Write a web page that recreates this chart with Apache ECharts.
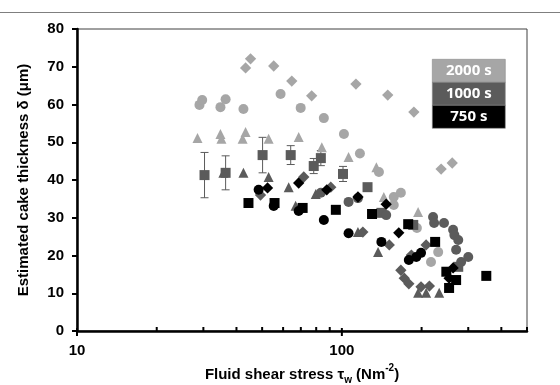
<!DOCTYPE html>
<html>
<head>
<meta charset="utf-8">
<script src="https://cdn.jsdelivr.net/npm/echarts@6/dist/echarts.min.js"></script>
<style>
html,body{margin:0;padding:0;background:#fff;}
#chart{width:560px;height:385px;}
</style>
</head>
<body>
<div id="chart"></div>
<script>
// tick labels
var xTickLabels = [10, 100];
var xMinorTicks = [20, 30, 40, 50, 60, 70, 80, 90, 200, 300, 400, 500];
var legendNames = ['2000 s', '1000 s', '750 s'];

// 2000 s (light grey)
var lightCircleX = [29.0, 29.7, 34.8, 36.4, 42.5, 58.7, 69.9, 85.5, 101.8, 117, 138, 157, 167, 157, 192, 231, 217];
var lightCircleY = [59.9, 61.2, 59.3, 61.4, 58.8, 62.8, 59.1, 56.4, 52.2, 47.0, 42.1, 35.5, 36.6, 33.4, 27.3, 20.9, 18.3];
var lightTriX = [28.5, 34.8, 35.1, 43.3, 42.2, 52.9, 68.7, 84.0, 106, 135, 144, 194];
var lightTriY = [51.1, 52.2, 50.9, 52.7, 50.9, 50.9, 51.4, 48.7, 46.1, 43.4, 35.5, 31.5];
var lightDiaX = [43.3, 45.2, 55.3, 64.7, 76.9, 113, 149, 187, 237, 261];
var lightDiaY = [69.7, 72.1, 70.2, 66.2, 62.3, 65.4, 62.5, 58.0, 42.9, 44.5];

// 1000 s (dark grey)
var darkSquareX = [30.3, 36.4, 50.2, 64.1, 78.3, 83.3, 101, 125, 141, 186, 275];
var darkSquareY = [41.3, 41.9, 46.6, 46.6, 43.7, 45.8, 41.6, 38.1, 31.3, 28.1, 17.0];
var darkSquareErr = [6.0, 4.5, 4.7, 2.5, 2.0, 2.0, 2.0, 0, 0, 0, 0];
var darkTriX = [35.7, 42.5, 52.9, 63.0, 66.9, 79.7, 115, 137, 194, 208, 233];
var darkTriY = [41.9, 41.9, 40.8, 38.1, 33.2, 36.3, 26.2, 20.9, 10.1, 10.1, 10.1];
var darkCircleX = [83.3, 106, 115, 147, 221, 223, 243, 263, 266, 275, 270, 282, 300];
var darkCircleY = [36.6, 34.2, 35.2, 30.7, 30.2, 28.6, 28.6, 26.8, 25.4, 24.1, 21.5, 18.3, 19.6];
var darkDiaX = [49.3, 71.8, 90.8, 120, 151, 167, 172, 179, 199, 214, 208, 183];
var darkDiaY = [36.0, 40.8, 38.1, 26.2, 22.8, 16.1, 14.0, 12.5, 11.7, 11.9, 22.8, 20.1];

// 750 s (black)
var blackSquareX = [44.4, 55.7, 71.1, 94.9, 130, 178, 225, 248, 270, 254, 351];
var blackSquareY = [33.9, 33.9, 32.6, 32.1, 31.0, 28.3, 23.6, 15.7, 13.5, 11.4, 14.6];
var blackCircleX = [48.5, 55.3, 68.7, 85.5, 106, 141, 179, 191, 199];
var blackCircleY = [37.4, 33.1, 31.8, 29.4, 25.9, 23.6, 18.8, 19.6, 20.7];
var blackDiaX = [52.4, 68.7, 87.7, 115, 147, 164, 254, 263];
var blackDiaY = [37.9, 39.2, 37.4, 35.5, 33.6, 26.0, 14.0, 16.7];

var colors = { light: '#a6a6a6', dark: '#5b5b5b', black: '#000000' };
var fontFamily = 'Liberation Sans, Arial, sans-serif';

function zip(xs, ys) {
	var out = [];
	for (var i = 0; i < xs.length; i++) {
		out.push([xs[i], ys[i]]);
	}
	return out;
}

function scatter(name, xs, ys, symbol, color, size, rotate) {
	return {
		name: name,
		type: 'scatter',
		data: zip(xs, ys),
		symbol: symbol,
		symbolSize: size,
		symbolRotate: rotate || 0,
		itemStyle: { color: color, opacity: 1 },
		z: 3
	};
}

var main = {
	el: 'chart',
	init: function() {
		var chart = echarts.init(document.getElementById(this.el));
		chart.setOption(this.buildOption());
	},
	errorData: function() {
		var out = [];
		for (var i = 0; i < darkSquareX.length; i++) {
			if (darkSquareErr[i] > 0) {
				out.push([darkSquareX[i], darkSquareY[i] - darkSquareErr[i], darkSquareY[i] + darkSquareErr[i]]);
			}
		}
		return out;
	},
	// x ticks on the log axis: majors point down, minors point up
	tickData: function() {
		var out = [];
		xTickLabels.forEach(function(v) { out.push([v, 1]); });
		xMinorTicks.forEach(function(v) { out.push([v, 0]); });
		return out;
	},
	legendGraphic: function() {
		var fills = [colors.light, colors.dark, colors.black];
		var items = [];
		for (var i = 0; i < legendNames.length; i++) {
			items.push({
				type: 'rect',
				shape: { x: 0, y: i * 23, width: 73, height: 23 },
				style: { fill: fills[i], stroke: '#8a8a8a', lineWidth: 0.6 }
			});
			items.push({
				type: 'text',
				x: 36.5,
				y: i * 23 + 11.5,
				style: {
					text: legendNames[i],
					fill: '#fff',
					font: 'bold 15px "Open Sans", sans-serif',
					align: 'center',
					verticalAlign: 'middle'
				}
			});
		}
		return { type: 'group', left: 432, top: 59, children: items };
	},
	buildOption: function() {
		var axisFont = { color: '#000', fontSize: 15, fontWeight: 'bold', fontFamily: fontFamily };
		return {
			animation: false,
			backgroundColor: '#fff',
			graphic: [
				{ type: 'line', shape: { x1: 0, y1: 12.5, x2: 560, y2: 12.5 }, style: { stroke: '#7f7f7f', lineWidth: 1 } },
				this.legendGraphic()
			],
			grid: {
				left: 77, right: 33, top: 29, bottom: 54,
				containLabel: false, outerBoundsMode: 'none',
				show: true, borderColor: '#404040', borderWidth: 1, backgroundColor: 'transparent'
			},
			xAxis: {
				type: 'log', logBase: 10, min: 10, max: 500,
				name: '{b|Fluid shear stress τ}{s|w}{b| (Nm}{p|-2}{b|)}',
				nameLocation: 'middle', nameGap: 33,
				nameTextStyle: {
					rich: {
						b: { fontSize: 15, fontWeight: 'bold', color: '#000', fontFamily: fontFamily },
						s: { fontSize: 10, fontWeight: 'bold', color: '#000', verticalAlign: 'bottom', padding: [0, 0, -3, 0], fontFamily: fontFamily },
						p: { fontSize: 10, fontWeight: 'bold', color: '#000', verticalAlign: 'top', padding: [-4, 0, 0, 0], fontFamily: fontFamily }
					}
				},
				axisLine: { onZero: false, lineStyle: { color: '#000', width: 2.5 } },
				axisTick: { show: false },
				axisLabel: Object.assign({ customValues: xTickLabels, margin: 12 }, axisFont),
				splitLine: { show: false }
			},
			yAxis: {
				type: 'value', min: 0, max: 80, interval: 10,
				name: 'Estimated cake thickness δ (μm)',
				nameLocation: 'middle', nameGap: 46,
				nameTextStyle: { fontSize: 15, fontWeight: 'bold', color: '#000', fontFamily: fontFamily },
				axisLine: { onZero: false, lineStyle: { color: '#000', width: 2.5 } },
				axisTick: { show: true, length: 5, lineStyle: { color: '#000', width: 2 } },
				axisLabel: Object.assign({ margin: 13 }, axisFont),
				splitLine: { show: false }
			},
			series: [
				{
					type: 'custom',
					name: 'xticks',
					data: this.tickData(),
					clip: false,
					z: 4,
					renderItem: function(params, api) {
						var p = api.coord([api.value(0), 0]);
						var major = api.value(1) === 1;
						return {
							type: 'line',
							shape: { x1: p[0], y1: major ? p[1] - 3 : p[1], x2: p[0], y2: major ? p[1] + 5 : p[1] - 4 },
							style: { stroke: '#000', lineWidth: 2 }
						};
					}
				},
				scatter('2000 s circle', lightCircleX, lightCircleY, 'circle', colors.light, 10),
				scatter('2000 s triangle', lightTriX, lightTriY, 'triangle', colors.light, 10),
				scatter('2000 s diamond', lightDiaX, lightDiaY, 'rect', colors.light, 8, 45),
				{
					type: 'custom',
					name: 'error',
					data: this.errorData(),
					z: 3,
					renderItem: function(params, api) {
						var x = api.value(0);
						var lo = api.coord([x, api.value(1)]);
						var hi = api.coord([x, api.value(2)]);
						var c = 4;
						var st = { stroke: colors.dark, lineWidth: 1 };
						return {
							type: 'group',
							children: [
								{ type: 'line', shape: { x1: lo[0], y1: lo[1], x2: hi[0], y2: hi[1] }, style: st },
								{ type: 'line', shape: { x1: lo[0] - c, y1: lo[1], x2: lo[0] + c, y2: lo[1] }, style: st },
								{ type: 'line', shape: { x1: hi[0] - c, y1: hi[1], x2: hi[0] + c, y2: hi[1] }, style: st }
							]
						};
					}
				},
				scatter('1000 s square', darkSquareX, darkSquareY, 'rect', colors.dark, 10),
				scatter('1000 s triangle', darkTriX, darkTriY, 'triangle', colors.dark, 10),
				scatter('1000 s circle', darkCircleX, darkCircleY, 'circle', colors.dark, 10),
				scatter('1000 s diamond', darkDiaX, darkDiaY, 'rect', colors.dark, 8, 45),
				scatter('750 s square', blackSquareX, blackSquareY, 'rect', colors.black, 10),
				scatter('750 s circle', blackCircleX, blackCircleY, 'circle', colors.black, 10),
				scatter('750 s diamond', blackDiaX, blackDiaY, 'rect', colors.black, 8, 45)
			]
		};
	}
};

main.init();
</script>
</body>
</html>
